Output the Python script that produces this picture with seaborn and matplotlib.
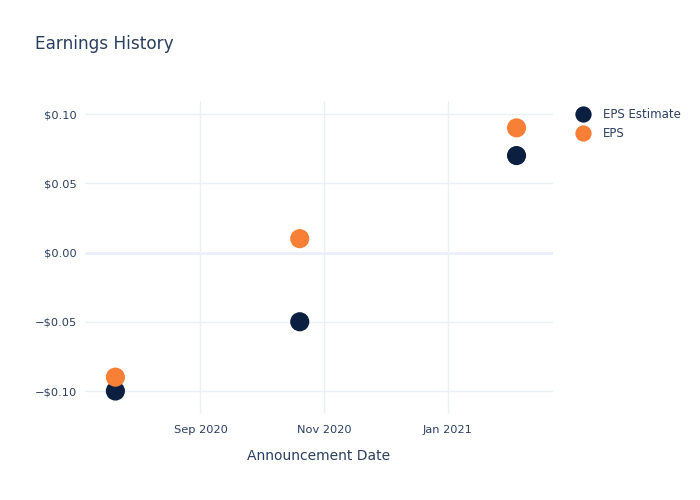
import matplotlib
matplotlib.use("Agg")
import matplotlib.pyplot as plt
import matplotlib.ticker as mticker
import seaborn as sns
import pandas as pd

dates = ["2020-07-21", "2020-10-20", "2021-02-04"]
eps_estimate = [-0.10, -0.05, 0.07]
eps_actual = [-0.09, 0.01, 0.09]
x_ticks = ["2020-09-01", "2020-11-01", "2021-01-01"]
x_tick_labels = ["Sep 2020", "Nov 2020", "Jan 2021"]
y_ticks = [-0.10, -0.05, 0.00, 0.05, 0.10]

df = pd.DataFrame({
    "date": pd.to_datetime(dates * 2),
    "value": eps_estimate + eps_actual,
    "series": ["EPS Estimate"] * 3 + ["EPS"] * 3,
})

sns.set_style("white")
plt.rcParams["font.family"] = ["DejaVu Sans"]
text_color = "#2a3f5f"
grid_color = "#EBF0F8"

fig = plt.figure(figsize=(7, 5), dpi=100)
ax = fig.add_axes([85/700, 1-414/500, (553-85)/700, (414-101)/500])

sns.scatterplot(data=df, x="date", y="value", hue="series",
                palette={"EPS Estimate": "#0b1f40", "EPS": "#f78036"},
                s=190, edgecolor="none", ax=ax, zorder=3, legend=True)

ax.set_xlim(pd.Timestamp("2020-07-06"), pd.Timestamp("2021-02-22"))
ax.set_ylim(-0.1166, 0.1094)
ax.set_xticks(pd.to_datetime(x_ticks))
ax.set_xticklabels(x_tick_labels)
ax.set_yticks(y_ticks)
ax.yaxis.set_major_formatter(mticker.FuncFormatter(
    lambda v, p: ("\u2212" if v < -1e-9 else "") + "${:.2f}".format(abs(v))))

ax.grid(True, color=grid_color, linewidth=1, zorder=0)
ax.axhline(0, color=grid_color, linewidth=2, zorder=1)
for s in ax.spines.values():
    s.set_visible(False)
ax.tick_params(axis="both", length=0, colors=text_color, labelsize=8.2)
ax.tick_params(axis="x", pad=8)
ax.tick_params(axis="y", pad=6)
ax.set_xlabel("Announcement Date", color=text_color, fontsize=10, labelpad=10)
ax.set_ylabel("")

fig.text(35/700, 1-44/500, "Earnings History", color=text_color,
         fontsize=12.2, va="center", ha="left")

leg = ax.legend(loc="upper left", bbox_to_anchor=(577/700, 1-108/500),
                bbox_transform=fig.transFigure, frameon=False,
                fontsize=8.5, handlelength=1.0, handletextpad=1.2,
                labelspacing=0.55, borderpad=0, borderaxespad=0,
                markerscale=0.85)
for t in leg.get_texts():
    t.set_color(text_color)

fig.savefig("out.png", dpi=100, facecolor="white")
